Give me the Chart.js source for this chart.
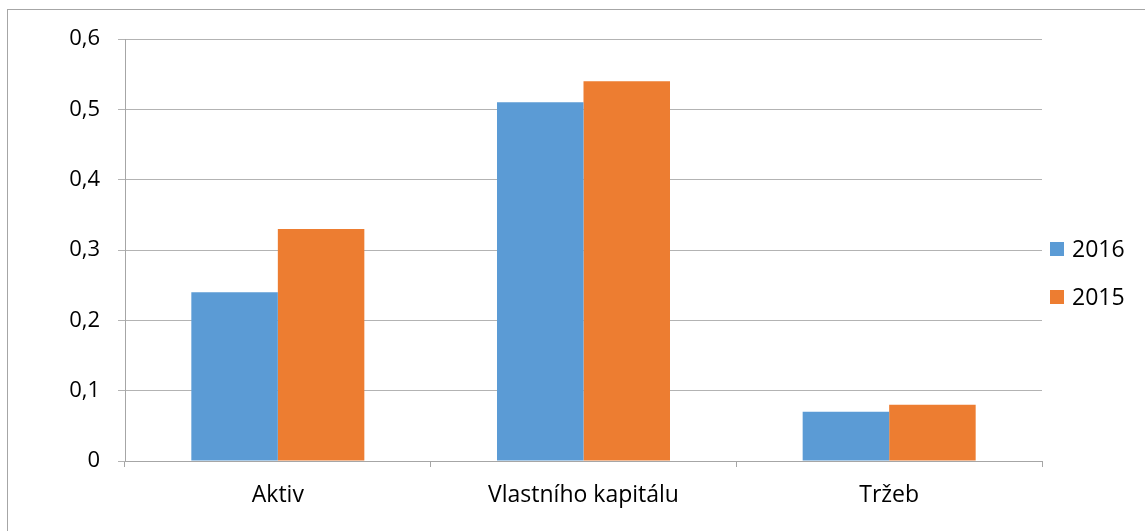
<!DOCTYPE html>
<html><head><meta charset="utf-8">
<script src="https://cdn.jsdelivr.net/npm/chart.js@4/dist/chart.umd.min.js"></script>
<style>html,body{margin:0;padding:0;background:#fff;}canvas{display:block;}</style>
</head><body>
<canvas id="c" width="1145" height="531"></canvas>
<script>
const categories = ["Aktiv", "Vlastního kapitálu", "Tržeb"];
const seriesNames = ["2016", "2015"];
const values2016 = [0.24, 0.51, 0.07];
const values2015 = [0.33, 0.54, 0.08];
const colors = ["#5B9BD5", "#ED7D31"];
const FONT = "'Open Sans', sans-serif";
const FSIZE = 23;

const frame = {
  id: 'frame',
  beforeDraw(chart) {
    const ctx = chart.ctx;
    ctx.save();
    ctx.fillStyle = '#fff';
    ctx.fillRect(0, 0, chart.width, chart.height);
    ctx.strokeStyle = '#a6a6a6';
    ctx.lineWidth = 1;
    ctx.strokeRect(7.5, 9.5, 1200, 600);
    ctx.restore();
  },
  afterDraw(chart) {
    const ctx = chart.ctx;
    ctx.save();
    ctx.font = FSIZE + "px " + FONT;
    ctx.textBaseline = 'middle';
    ctx.textAlign = 'left';
    const ys = [249, 297];
    chart.data.datasets.forEach((ds, i) => {
      ctx.fillStyle = ds.backgroundColor;
      ctx.fillRect(1050, ys[i] - 7, 14, 14);
      ctx.fillStyle = '#000';
      ctx.fillText(ds.label, 1072, ys[i] + 1);
    });
    ctx.restore();
  }
};

new Chart(document.getElementById('c'), {
  type: 'bar',
  data: {
    labels: categories,
    datasets: [
      { label: seriesNames[0], data: values2016, backgroundColor: colors[0] },
      { label: seriesNames[1], data: values2015, backgroundColor: colors[1] }
    ]
  },
  options: {
    responsive: false,
    animation: false,
    devicePixelRatio: 1,
    layout: { padding: { left: 0, top: 39, right: 103, bottom: 0 } },
    datasets: { bar: { categoryPercentage: 0.566, barPercentage: 1.0 } },
    plugins: { legend: { display: false }, tooltip: { enabled: false } },
    scales: {
      x: {
        offset: true,
        grid: { offset: true, drawOnChartArea: false, drawTicks: true, tickLength: 6, color: '#a6a6a6' },
        border: { color: '#a6a6a6' },
        ticks: { color: '#000', font: { family: FONT, size: FSIZE }, padding: 15 },
        afterFit(scale) { scale.height = 70; }
      },
      y: {
        min: 0, max: 0.6,
        grid: { color: '#b3b3b3', tickLength: 7 },
        border: { color: '#a6a6a6' },
        ticks: {
          stepSize: 0.1, color: '#000', font: { family: FONT, size: 22 }, padding: 18,
          callback: v => (Math.round(v * 10) / 10).toString().replace('.', ',')
        },
        afterFit(scale) { scale.width = 125; }
      }
    }
  },
  plugins: [frame]
});
</script>
</body></html>
